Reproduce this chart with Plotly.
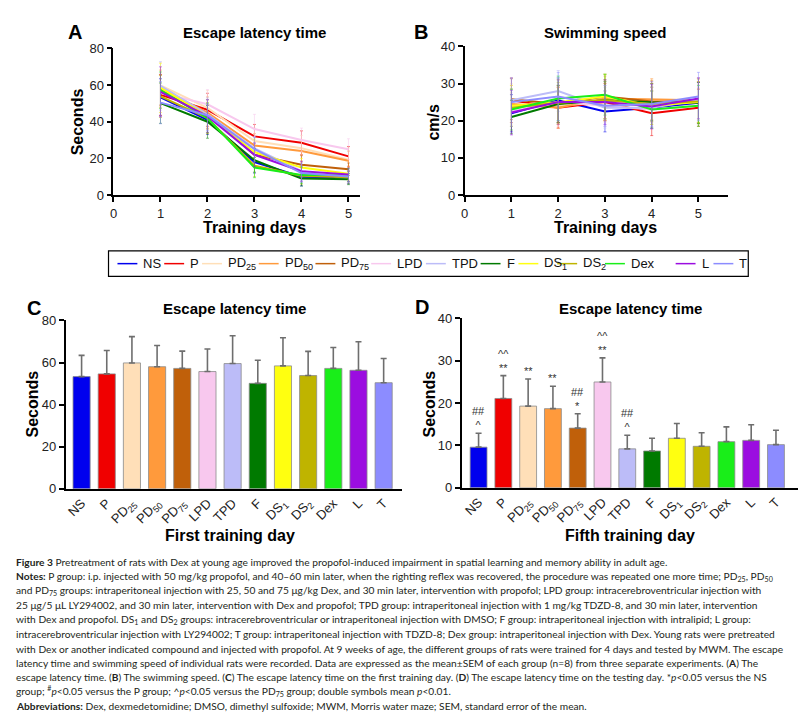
import plotly.graph_objects as go

# ---------------- data ----------------
groups = ["NS", "P", "PD25", "PD50", "PD75", "LPD", "TPD", "F", "DS1", "DS2", "Dex", "L", "T"]
tick_text = ["NS", "P", "PD<sub>25</sub>", "PD<sub>50</sub>", "PD<sub>75</sub>", "LPD", "TPD", "F",
             "DS<sub>1</sub>", "DS<sub>2</sub>", "Dex", "L", "T"]
legend_text = tick_text
colors = ["#0000ee", "#f00000", "#ffdfb8", "#ff9a3c", "#c0600a", "#f8c8ee", "#bcbcf8",
          "#007a00", "#ffff10", "#bfb400", "#19ee19", "#9b0de0", "#8c8cff"]

days = [1, 2, 3, 4, 5]

# escape latency (s), days 1-5, per group
lat_NS   = [53.3, 41.0, 18.0, 10.0, 9.6]
lat_P    = [54.6, 46.5, 32.0, 28.5, 21.1]
lat_PD25 = [59.8, 47.5, 29.5, 25.5, 19.3]
lat_PD50 = [58.0, 45.0, 27.0, 24.0, 18.7]
lat_PD75 = [57.2, 44.0, 22.0, 16.5, 14.1]
lat_LPD  = [55.7, 49.5, 36.0, 30.0, 25.0]
lat_TPD  = [59.5, 44.0, 25.5, 13.0, 9.2]
lat_F    = [50.1, 40.0, 19.0, 9.0, 8.7]
lat_DS1  = [58.4, 43.0, 23.5, 15.0, 11.7]
lat_DS2  = [53.8, 42.0, 16.0, 10.5, 9.8]
lat_Dex  = [57.2, 42.0, 15.0, 11.0, 10.9]
lat_L    = [56.3, 43.0, 22.0, 13.0, 11.2]
lat_T    = [50.4, 43.5, 25.0, 12.0, 10.2]

# SEM of escape latency, days 1-5
sem_NS   = [10.1, 8.0, 6.0, 5.0, 3.3]
sem_P    = [11.1, 9.0, 6.5, 6.5, 5.4]
sem_PD25 = [12.5, 9.5, 7.0, 7.0, 6.4]
sem_PD50 = [10.1, 8.5, 6.5, 6.0, 5.3]
sem_PD75 = [8.2, 8.0, 6.0, 5.0, 3.4]
sem_LPD  = [10.7, 8.0, 8.0, 6.5, 5.7]
sem_TPD  = [13.2, 9.0, 6.5, 5.0, 3.2]
sem_F    = [11.0, 9.0, 6.5, 4.0, 3.0]
sem_DS1  = [13.4, 9.0, 7.0, 5.0, 3.5]
sem_DS2  = [11.5, 8.5, 6.0, 4.5, 3.2]
sem_Dex  = [9.9, 8.0, 5.5, 4.5, 3.5]
sem_L    = [13.6, 9.0, 6.5, 5.5, 3.7]
sem_T    = [11.5, 8.5, 6.5, 5.0, 3.4]

# swimming speed (cm/s), days 1-5
spd_NS   = [22.0, 25.5, 22.5, 23.5, 24.8]
spd_P    = [25.5, 23.5, 25.0, 22.0, 23.5]
spd_PD25 = [24.5, 24.0, 25.0, 25.5, 25.0]
spd_PD50 = [24.5, 23.5, 26.0, 25.8, 25.5]
spd_PD75 = [25.8, 24.5, 26.5, 25.2, 25.0]
spd_LPD  = [22.5, 25.0, 24.0, 23.0, 24.0]
spd_TPD  = [25.5, 28.0, 23.5, 23.5, 25.5]
spd_F    = [21.0, 24.5, 25.5, 25.0, 24.8]
spd_DS1  = [24.0, 25.0, 26.5, 24.0, 25.0]
spd_DS2  = [23.5, 24.8, 25.5, 24.5, 25.2]
spd_Dex  = [23.0, 26.0, 27.0, 23.0, 24.0]
spd_L    = [22.2, 25.0, 25.0, 23.8, 26.0]
spd_T    = [25.0, 26.5, 24.0, 24.5, 26.5]

# SEM of swimming speed, days 1-5
ssem_NS   = [5.0, 6.0, 5.5, 5.5, 5.5]
ssem_P    = [6.0, 5.5, 5.0, 6.0, 5.0]
ssem_PD25 = [5.5, 5.0, 5.5, 5.5, 5.5]
ssem_PD50 = [5.0, 5.5, 6.0, 5.5, 6.0]
ssem_PD75 = [5.5, 5.0, 6.0, 5.5, 5.5]
ssem_LPD  = [5.0, 6.5, 5.5, 5.0, 5.0]
ssem_TPD  = [6.0, 5.5, 5.5, 5.5, 6.0]
ssem_F    = [4.5, 5.0, 5.0, 5.0, 5.5]
ssem_DS1  = [5.5, 6.0, 6.0, 5.0, 5.5]
ssem_DS2  = [5.0, 5.5, 5.5, 5.5, 6.0]
ssem_Dex  = [5.5, 6.0, 5.5, 5.0, 5.5]
ssem_L    = [6.0, 6.0, 6.0, 6.0, 5.5]
ssem_T    = [6.5, 6.5, 5.5, 6.0, 6.5]

sig_day5 = ["##<br>^", "^^<br>**", "**", "**", "##<br>*", "^^<br>**", "##<br>^", "", "", "", "", "", ""]

lat = [lat_NS, lat_P, lat_PD25, lat_PD50, lat_PD75, lat_LPD, lat_TPD, lat_F, lat_DS1, lat_DS2, lat_Dex, lat_L, lat_T]
sem = [sem_NS, sem_P, sem_PD25, sem_PD50, sem_PD75, sem_LPD, sem_TPD, sem_F, sem_DS1, sem_DS2, sem_Dex, sem_L, sem_T]
spd = [spd_NS, spd_P, spd_PD25, spd_PD50, spd_PD75, spd_LPD, spd_TPD, spd_F, spd_DS1, spd_DS2, spd_Dex, spd_L, spd_T]
ssem = [ssem_NS, ssem_P, ssem_PD25, ssem_PD50, ssem_PD75, ssem_LPD, ssem_TPD, ssem_F, ssem_DS1, ssem_DS2, ssem_Dex, ssem_L, ssem_T]

caption_lines = [
    "<b>Figure 3</b> Pretreatment of rats with Dex at young age improved the propofol-induced impairment in spatial learning and memory ability in adult age.",
    "<b>Notes:</b> P group: i.p. injected with 50 mg/kg propofol, and 40–60 min later, when the righting reflex was recovered, the procedure was repeated one more time; PD<sub>25</sub>, PD<sub>50</sub>",
    "and PD<sub>75</sub> groups: intraperitoneal injection with 25, 50 and 75 μg/kg Dex, and 30 min later, intervention with propofol; LPD group: intracerebroventricular injection with",
    "25 μg/5 μL LY294002, and 30 min later, intervention with Dex and propofol; TPD group: intraperitoneal injection with 1 mg/kg TDZD-8, and 30 min later, intervention",
    "with Dex and propofol. DS<sub>1</sub> and DS<sub>2</sub> groups: intracerebroventricular or intraperitoneal injection with DMSO; F group: intraperitoneal injection with intralipid; L group:",
    "intracerebroventricular injection with LY294002; T group: intraperitoneal injection with TDZD-8; Dex group: intraperitoneal injection with Dex. Young rats were pretreated",
    "with Dex or another indicated compound and injected with propofol. At 9 weeks of age, the different groups of rats were trained for 4 days and tested by MWM. The escape",
    "latency time and swimming speed of individual rats were recorded. Data are expressed as the mean±SEM of each group (n=8) from three separate experiments. (<b>A</b>) The",
    "escape latency time. (<b>B</b>) The swimming speed. (<b>C</b>) The escape latency time on the first training day. (<b>D</b>) The escape latency time on the testing day. *<i>p</i>&lt;0.05 versus the NS",
    "group; <sup>#</sup><i>p</i>&lt;0.05 versus the P group; ^<i>p</i>&lt;0.05 versus the PD<sub>75</sub> group; double symbols mean <i>p</i>&lt;0.01.",
    "<b>Abbreviations:</b> Dex, dexmedetomidine; DMSO, dimethyl sulfoxide; MWM, Morris water maze; SEM, standard error of the mean.",
]

# ---------------- layout helpers ----------------
# page is 811x727; the browser body keeps its default 8px margin, so the figure is 795x711
PAGE_W, PAGE_H, BODY_M = 811, 727, 8
W, H = PAGE_W - 2 * BODY_M, PAGE_H - 2 * BODY_M
def px(x):
    return (x - BODY_M) / W
def py(y):
    return 1 - (y - BODY_M) / H

def rgba(hexc, a):
    h = hexc.lstrip("#")
    return "rgba(%d,%d,%d,%.2f)" % (int(h[0:2], 16), int(h[2:4], 16), int(h[4:6], 16), a)

FONT = "Arial, Liberation Sans, sans-serif"
CAP_FONT = "Lato, Noto Sans, sans-serif"

fig = go.Figure()

# Panel A and B lines
for i, g in enumerate(groups):
    fig.add_trace(go.Scatter(
        x=days, y=lat[i], mode="lines", name=g, showlegend=False,
        line=dict(color=colors[i], width=2),
        error_y=dict(type="data", array=sem[i], color=rgba(colors[i], 0.5), thickness=1, width=1.5),
        xaxis="x", yaxis="y"))
for i, g in enumerate(groups):
    fig.add_trace(go.Scatter(
        x=days, y=spd[i], mode="lines", name=g, showlegend=False,
        line=dict(color=colors[i], width=2),
        error_y=dict(type="data", array=ssem[i], color=rgba(colors[i], 0.5), thickness=1, width=1.5),
        xaxis="x2", yaxis="y2"))

idx = list(range(len(groups)))
day1 = [lat[i][0] for i in idx]
day1_sem = [sem[i][0] for i in idx]
day5 = [lat[i][4] for i in idx]
day5_sem = [sem[i][4] for i in idx]

for (vals, errs, xa, ya) in [(day1, day1_sem, "x3", "y3"), (day5, day5_sem, "x4", "y4")]:
    fig.add_trace(go.Bar(
        x=idx, y=vals, width=0.68, showlegend=False,
        marker=dict(color=colors, line=dict(color="#8a8a8a", width=0.8)),
        error_y=dict(type="data", array=errs, arrayminus=[0] * len(errs), symmetric=False,
                     color="#6e6e6e", thickness=1.6, width=3),
        xaxis=xa, yaxis=ya))

axis_common = dict(showgrid=False, zeroline=False, showline=True, linecolor="black", linewidth=1.6,
                   ticks="outside", ticklen=5, tickwidth=1.6, tickcolor="black",
                   tickfont=dict(family=FONT, size=13, color="#222"))

fig.update_layout(
    width=W, height=H, margin=dict(l=0, r=0, t=0, b=0),
    paper_bgcolor="white", plot_bgcolor="white", bargap=0.3,
    xaxis=dict(domain=[px(110), px(358)], range=[0, 5.25], tickvals=[0, 1, 2, 3, 4, 5],
               anchor="y", **axis_common),
    yaxis=dict(domain=[py(192), py(42)], range=[0, 80], tickvals=[0, 20, 40, 60, 80],
               anchor="x", **axis_common),
    xaxis2=dict(domain=[px(463), px(728)], range=[0, 5.64], tickvals=[0, 1, 2, 3, 4, 5],
                anchor="y2", **axis_common),
    yaxis2=dict(domain=[py(192), py(40)], range=[0, 40], tickvals=[0, 10, 20, 30, 40],
                anchor="x2", **axis_common),
    xaxis3=dict(domain=[px(62), px(400)], range=[-0.63, 12.73], tickvals=idx, ticktext=tick_text,
                tickangle=-45, anchor="y3",
                **{**axis_common, "ticks": ""}),
    yaxis3=dict(domain=[py(492), py(320)], range=[0, 80], tickvals=[0, 20, 40, 60, 80],
                anchor="x3", **axis_common),
    xaxis4=dict(domain=[px(460), px(798)], range=[-0.68, 12.89], tickvals=idx, ticktext=tick_text,
                tickangle=-45, anchor="y4",
                **{**axis_common, "ticks": ""}),
    yaxis4=dict(domain=[py(491), py(318)], range=[0, 40], tickvals=[0, 10, 20, 30, 40],
                anchor="x4", **axis_common),
)

ann = []
def txt(x, y, s, size, bold=True, angle=0, xanchor="center", family=FONT, color="black"):
    ann.append(dict(x=px(x), y=py(y), xref="paper", yref="paper", text=("<b>%s</b>" % s) if bold else s,
                    showarrow=False, textangle=angle, xanchor=xanchor, yanchor="middle",
                    font=dict(family=family, size=size, color=color)))

# panel letters
txt(71, 25, "A", 20); txt(419, 25, "B", 20); txt(30, 307, "C", 20); txt(420, 306, "D", 20)
# titles
txt(252, 26, "Escape latency time", 15); txt(605, 26, "Swimming speed", 15)
txt(232, 308, "Escape latency time", 15); txt(630, 308, "Escape latency time", 15)
# x titles
txt(252, 225, "Training days", 16); txt(605, 225, "Training days", 16)
txt(227, 540, "First training day", 16); txt(629, 540, "Fifth training day", 16)
# y titles
txt(74, 117, "Seconds", 16, angle=-90); txt(432, 117, "cm/s", 16, angle=-90)
txt(29, 405, "Seconds", 16, angle=-90); txt(428, 405, "Seconds", 16, angle=-90)

# significance marks on panel D
for i in idx:
    if sig_day5[i]:
        ann.append(dict(x=i, y=day5[i] + day5_sem[i], xref="x4", yref="y4", text=sig_day5[i],
                        showarrow=False, yanchor="bottom", yshift=0,
                        font=dict(family=FONT, size=11, color="#333")))

# legend (manual, single row)
legend_text_x = [138, 185, 223, 280, 337, 393, 448, 503, 541, 580, 628, 699, 737]
shapes = [dict(type="rect", xref="paper", yref="paper", x0=px(105), x1=px(748), y0=py(249), y1=py(275),
               line=dict(color="black", width=1.2), fillcolor="white")]
for i in idx:
    tx = legend_text_x[i]
    shapes.append(dict(type="line", xref="paper", yref="paper", x0=px(tx - 24), x1=px(tx - 4),
                       y0=py(262), y1=py(262), line=dict(color=colors[i], width=1.5)))
    txt(tx, 262, legend_text[i], 13, bold=False, xanchor="left", color="#111")

# caption
for k, line in enumerate(caption_lines):
    txt(10, 567 + 14.7 * k, line, 10.2, bold=False, xanchor="left", family=CAP_FONT, color="#231f20")

fig.update_layout(annotations=ann, shapes=shapes)
fig.write_html("out.html", config={"displayModeBar": False})
